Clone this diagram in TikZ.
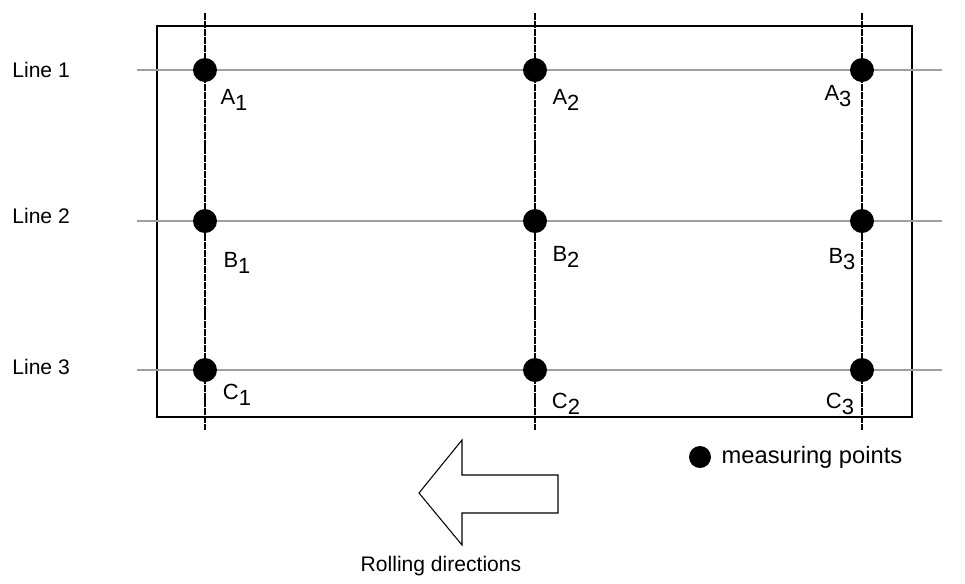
\documentclass[tikz,border=0pt]{standalone}
\usepackage{fontspec}
\setmainfont{Liberation Sans}
\usetikzlibrary{positioning}
\newcommand{\ptname}[2]{#1\raisebox{-0.5ex}{#2}}

\begin{document}
\begin{tikzpicture}[x=0.02cm,y=-0.02cm,
  point node/.style={circle,fill=black,inner sep=0pt,minimum size=0.48cm},
  name node/.style={inner sep=0pt,font=\fontsize{12.5}{14}\selectfont},
  line node/.style={anchor=west,inner sep=0pt,font=\fontsize{12}{14}\selectfont},
  hline/.style={gray!75,line width=0.9pt},
  vline/.style={black,line width=0.6pt,dash pattern=on 4pt off 0.5pt}]

  \useasboundingbox (0,0) rectangle (965,583);

  % plate
  \draw[line width=1.1pt] (157,26) rectangle (912,417);

  % ends of the grid lines
  \coordinate (left1) at (137,70);
  \coordinate (right1) at (942,70);
  \coordinate (left2) at (137,221);
  \coordinate (right2) at (942,221);
  \coordinate (left3) at (137,370);
  \coordinate (right3) at (942,370);
  \coordinate (top1) at (205,13);
  \coordinate (bot1) at (205,430);
  \coordinate (top2) at (535,13);
  \coordinate (bot2) at (535,430);
  \coordinate (top3) at (862,13);
  \coordinate (bot3) at (862,430);

  \draw[hline] (left1) -- (right1);
  \draw[hline] (left2) -- (right2);
  \draw[hline] (left3) -- (right3);
  \draw[vline] (top1) -- (bot1);
  \draw[vline] (top2) -- (bot2);
  \draw[vline] (top3) -- (bot3);

  \node[point node] (A1) at (205,70) {};
  \node[point node] (A2) at (535,70) {};
  \node[point node] (A3) at (862,70) {};
  \node[point node] (B1) at (205,221) {};
  \node[point node] (B2) at (535,221) {};
  \node[point node] (B3) at (862,221) {};
  \node[point node] (C1) at (205,370) {};
  \node[point node] (C2) at (535,370) {};
  \node[point node] (C3) at (862,370) {};

  \node[name node] (nA1) at (234,100) {\ptname{A}{1}};
  \node[name node] (nA2) at (566,100) {\ptname{A}{2}};
  \node[name node] (nA3) at (838,96) {\ptname{A}{3}};
  \node[name node] (nB1) at (237,263) {\ptname{B}{1}};
  \node[name node] (nB2) at (566,257) {\ptname{B}{2}};
  \node[name node] (nB3) at (842,259) {\ptname{B}{3}};
  \node[name node] (nC1) at (237,395) {\ptname{C}{1}};
  \node[name node] (nC2) at (566,404) {\ptname{C}{2}};
  \node[name node] (nC3) at (840,404) {\ptname{C}{3}};

  \node[line node] (line1) at (12,70) {Line 1};
  \node[line node] (line2) at (12,216) {Line 2};
  \node[line node] (line3) at (12,367) {Line 3};

  % rolling direction
  \draw[line width=0.6pt] (419,493) -- (462,440) -- (462,475) -- (558,475)
    -- (558,513) -- (462,513) -- (462,545) -- cycle;
  \node[line node,anchor=center] (roll) at (441,566) {Rolling directions};

  % legend
  \node[point node,minimum size=0.44cm] (key) at (700,457) {};
  \node[line node,font=\fontsize{13.5}{15}\selectfont] (keytext) [right=0.2cm of key] {measuring points};
\end{tikzpicture}
\end{document}
